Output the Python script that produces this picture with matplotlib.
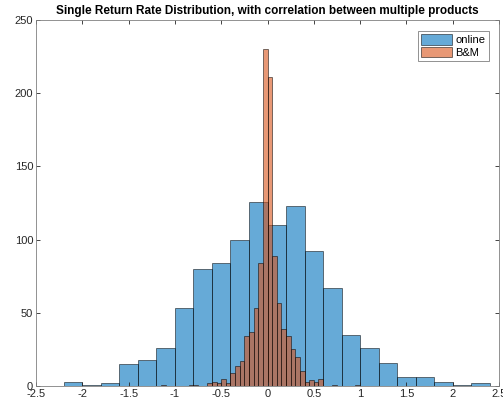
import numpy as np
import matplotlib
matplotlib.use("Agg")
import matplotlib.pyplot as plt

plt.rcParams['font.family'] = ['Liberation Sans', 'DejaVu Sans']

# online: bin width 0.2, edges -2.2 .. 2.4
online_edges = np.round(np.arange(-2.2, 2.4001, 0.2), 2)
online_counts = [3, 1, 2, 15, 18, 26, 53, 80, 84, 100, 126,
                 110, 123, 92, 67, 35, 26, 16, 6, 6, 3, 1, 2]

# B&M: bin width 0.05, edges -1.15 .. 1.0
bm_edges = np.round(np.arange(-1.15, 1.0001, 0.05), 2)
bm_counts = [1, 0, 0, 0, 0, 0,          # -1.15 .. -0.85
             1, 1, 0, 0,                # -0.85 .. -0.65
             2, 3, 2, 5, 2, 9, 14, 17, 34, 37, 53, 84,   # -0.65 .. 0
             230, 211, 89, 57, 39, 34, 25, 20, 10, 3, 4, 3, 5,  # 0 .. 0.6
             0, 0, 1, 0, 0, 0, 0, 1]    # 0.6 .. 1.0

blue = (0, 0.447, 0.741)
orange = (0.85, 0.325, 0.098)

fig = plt.figure(figsize=(5.03, 4.09), dpi=100)
ax = fig.add_axes([36 / 503, 23 / 409, 463 / 503, 366 / 409])

ax.bar(online_edges[:-1], online_counts, width=np.diff(online_edges), align='edge',
       color=blue, alpha=0.6, edgecolor='black', linewidth=0.6, label='online')
ax.bar(bm_edges[:-1], bm_counts, width=np.diff(bm_edges), align='edge',
       color=orange, alpha=0.6, edgecolor='black', linewidth=0.6, label='B&M')

ax.set_xlim(-2.5, 2.5)
ax.set_ylim(0, 250)
ax.set_xticks(np.arange(-2.5, 2.51, 0.5))
ax.set_xticklabels(['-2.5', '-2', '-1.5', '-1', '-0.5', '0', '0.5', '1', '1.5', '2', '2.5'])
ax.set_yticks(np.arange(0, 251, 50))
ax.tick_params(direction='in', top=True, right=True, labelsize=8, length=3,
               width=0.6, color='#262626', labelcolor='#262626', pad=2)
for s in ax.spines.values():
    s.set_color('#808080')
    s.set_linewidth(0.6)

ax.set_title('Single Return Rate Distribution, with correlation between multiple products',
             fontsize=8.5, fontweight='bold', pad=4)
leg = ax.legend(loc='upper right', fontsize=8, fancybox=False, framealpha=1,
                edgecolor='#808080', handlelength=2.8, handleheight=1.1,
                borderpad=0.3, labelspacing=0.1, handletextpad=0.3,
                borderaxespad=0, bbox_to_anchor=(0.978, 0.97))
leg.get_frame().set_linewidth(0.6)

fig.savefig('out.png', dpi=100)
